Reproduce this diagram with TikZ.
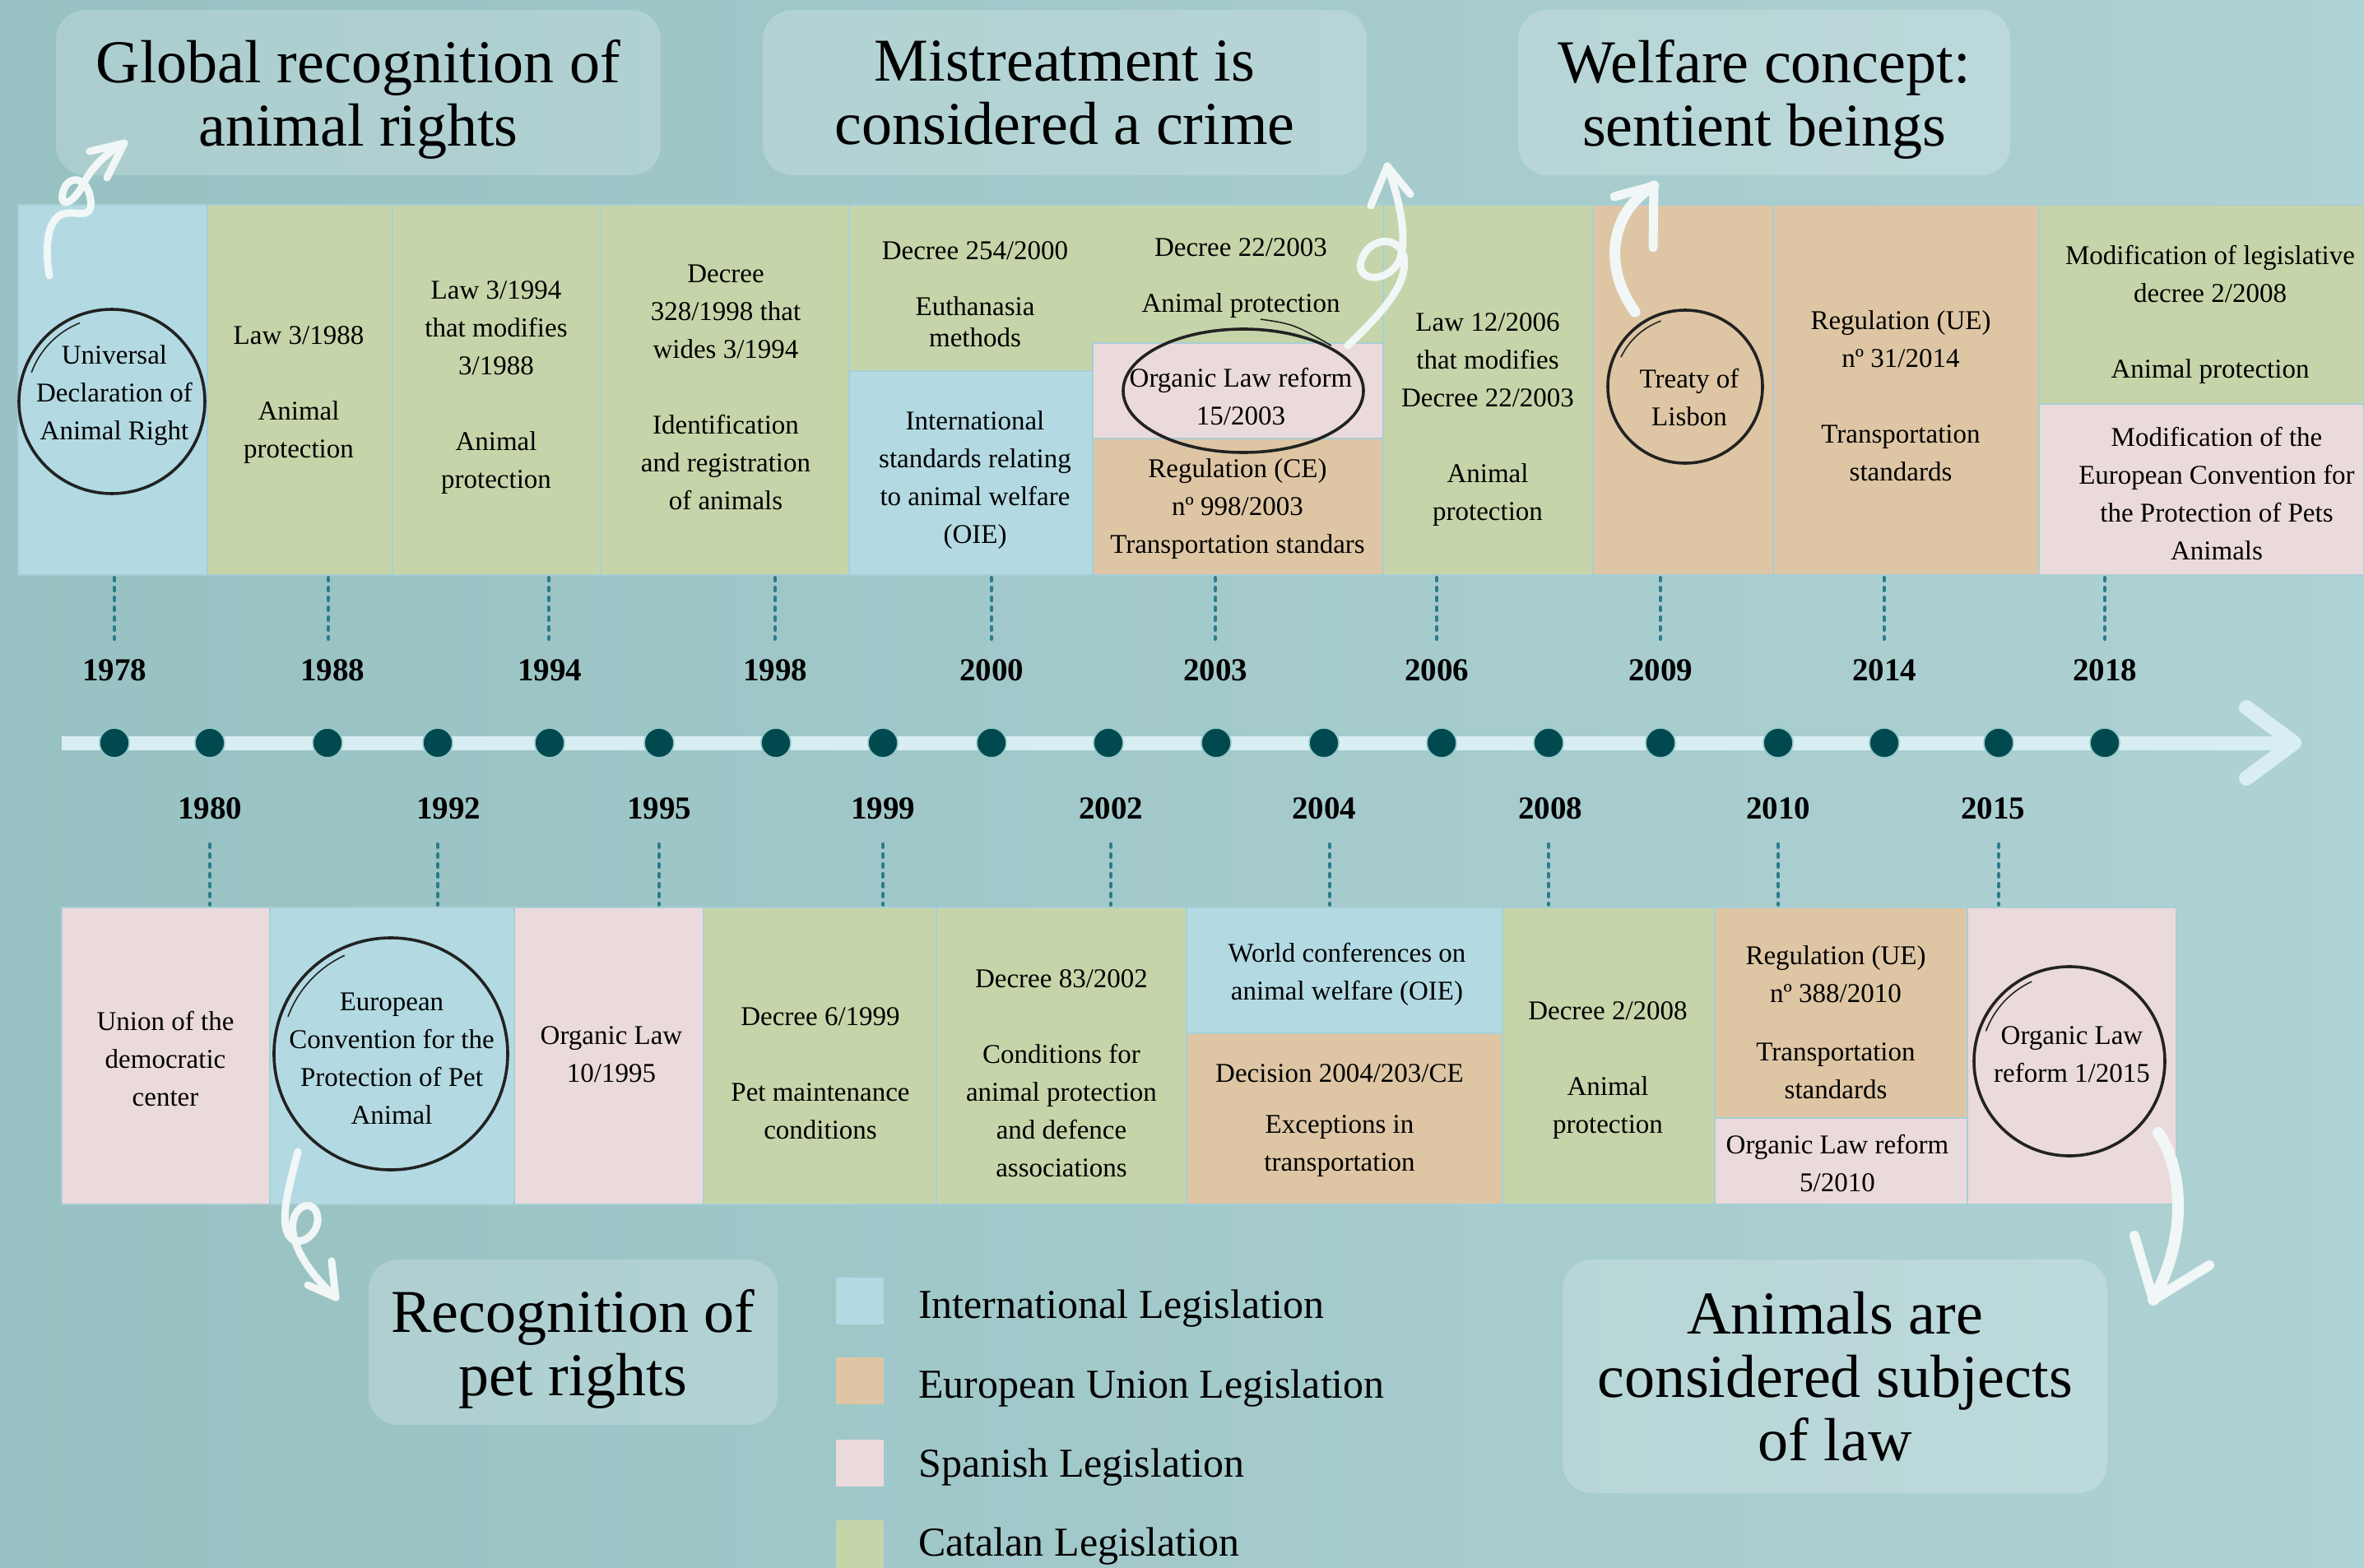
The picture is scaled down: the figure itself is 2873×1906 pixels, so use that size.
\documentclass[tikz,border=0pt]{standalone}
\usepackage{fontspec}
\setmainfont{Liberation Serif}
\definecolor{bgL}{RGB}{151,193,194}
\definecolor{bgR}{RGB}{175,210,212}
\definecolor{blueC}{RGB}{179,218,227}
\definecolor{greenC}{RGB}{198,213,169}
\definecolor{tanC}{RGB}{222,198,164}
\definecolor{pinkC}{RGB}{235,218,219}
\definecolor{sepC}{RGB}{168,206,214}
\definecolor{dotC}{RGB}{0,74,79}
\definecolor{ringC}{RGB}{150,200,200}
\definecolor{dlC}{RGB}{44,123,139}
\definecolor{barC}{RGB}{216,238,242}
\definecolor{arrC}{RGB}{240,247,246}
\definecolor{inkC}{RGB}{34,34,34}
\begin{document}
\begin{tikzpicture}[x=1pt,y=-1pt,
  bodytxt/.style={align=center,inner sep=0pt,font=\fontsize{33}{46}\selectfont},
  tighttxt/.style={align=center,inner sep=0pt,font=\fontsize{33}{38}\selectfont},
  titlebox/.style={fill=white,fill opacity=0.2,text opacity=1,rounded corners=36,align=center,inner sep=0pt,text depth=0pt,font=\fontsize{74}{77}\selectfont},
  yearlbl/.style={inner sep=0pt,font=\fontsize{39}{40}\selectfont\bfseries},
  tdot/.style={circle,fill=dotC,draw=ringC,line width=1.6,minimum size=36,inner sep=0pt},
  dotline/.style={draw=dlC,line width=4,line cap=round,dash pattern=on 4 off 8},
  cell/.style={fill=#1,draw=sepC,line width=1.2},
  ink/.style={draw=inkC,line width=3.6},
  inkthin/.style={draw=inkC,line width=1.6},
  harrow/.style={draw=arrC,line width=9,line cap=round,line join=round},
  bar/.style={draw=barC,line width=17},
  chev/.style={draw=barC,line width=18,line cap=round,line join=round},
  legtxt/.style={anchor=west,inner sep=0pt,font=\fontsize{50}{56}\selectfont}
]
\useasboundingbox (0,0) rectangle (2873,1906);
\shade[left color=bgL,right color=bgR] (0,0) rectangle (2873,1906);

% ---------- title boxes ----------
\node[titlebox,minimum width=735,minimum height=201] (t1) at (435.5,112.5) {Global recognition of\\animal rights};
\node[titlebox,minimum width=734,minimum height=201] (t2) at (1294,112.5) {Mistreatment is\\considered a crime};
\node[titlebox,minimum width=598,minimum height=201] (t3) at (2144,112.5) {Welfare concept:\\sentient beings};
\node[titlebox,minimum width=497,minimum height=201] (t4) at (696.5,1631.5) {Recognition of\\pet rights};
\node[titlebox,minimum width=662,minimum height=284] (t5) at (2230,1673) {Animals are\\considered subjects\\of law};

% ---------- top cells ----------
\filldraw[cell=blueC] (22,249) rectangle (252,699);
\filldraw[cell=greenC] (252,249) rectangle (477,699);
\filldraw[cell=greenC] (477,249) rectangle (731,699);
\filldraw[cell=greenC] (731,249) rectangle (1032,699);
\filldraw[cell=greenC] (1032,249) rectangle (1681,451);
\filldraw[cell=blueC] (1032,451) rectangle (1328,699);
\filldraw[cell=pinkC] (1328,417) rectangle (1681,533);
\filldraw[cell=tanC] (1328,533) rectangle (1681,699);
\filldraw[cell=greenC] (1681,249) rectangle (1936,699);
\filldraw[cell=tanC] (1936,249) rectangle (2155,699);
\filldraw[cell=tanC] (2155,249) rectangle (2478,699);
\filldraw[cell=greenC] (2478,249) rectangle (2873,491);
\filldraw[cell=pinkC] (2478,491) rectangle (2873,699);

\node[bodytxt] (c1) at (139,481) {Universal\\Declaration of\\Animal Right};
\node[bodytxt] (c2) at (363,480) {Law 3/1988\\[46pt]Animal\\protection};
\node[bodytxt] (c3) at (603,471) {Law 3/1994\\that modifies\\3/1988\\[46pt]Animal\\protection};
\node[bodytxt] (c4) at (882,471) {Decree\\328/1998 that\\wides 3/1994\\[46pt]Identification\\and registration\\of animals};
\node[tighttxt] (c5t) at (1185,358) {Decree 254/2000\\[30pt]Euthanasia\\methods};
\node[bodytxt] (c5b) at (1185,584) {International\\standards relating\\to animal welfare\\(OIE)};
\node[bodytxt] (c6t) at (1508,338) {Decree 22/2003\\[22pt]Animal protection};
\node[bodytxt] (c6p) at (1508,482) {Organic Law reform\\15/2003};
\node[bodytxt] (c6b) at (1504,619) {Regulation (CE)\\nº 998/2003\\Transportation standars};
\node[bodytxt] (c7) at (1808,510) {Law 12/2006\\that modifies\\Decree 22/2003\\[46pt]Animal\\protection};
\node[bodytxt] (c8) at (2053,483) {Treaty of\\Lisbon};
\node[bodytxt] (c9) at (2310,481) {Regulation (UE)\\nº 31/2014\\[46pt]Transportation\\standards};
\node[bodytxt] (c10t) at (2686,382) {Modification of legislative\\decree 2/2008\\[46pt]Animal protection};
\node[bodytxt] (c10b) at (2694,600) {Modification of the\\European Convention for\\the Protection of Pets\\Animals};

% ---------- bottom cells ----------
\filldraw[cell=pinkC] (75,1103) rectangle (328,1464);
\filldraw[cell=blueC] (328,1103) rectangle (625,1464);
\filldraw[cell=pinkC] (625,1103) rectangle (855,1464);
\filldraw[cell=greenC] (855,1103) rectangle (1138,1464);
\filldraw[cell=greenC] (1138,1103) rectangle (1442,1464);
\filldraw[cell=blueC] (1442,1103) rectangle (1826,1256);
\filldraw[cell=tanC] (1442,1256) rectangle (1826,1464);
\filldraw[cell=greenC] (1826,1103) rectangle (2084,1464);
\filldraw[cell=tanC] (2084,1103) rectangle (2391,1359);
\filldraw[cell=pinkC] (2084,1359) rectangle (2391,1464);
\filldraw[cell=pinkC] (2391,1103) rectangle (2645,1464);

\node[bodytxt] (b1) at (201,1287) {Union of the\\democratic\\center};
\node[bodytxt] (b2) at (476,1287) {European\\Convention for the\\Protection of Pet\\Animal};
\node[bodytxt] (b3) at (743,1282) {Organic Law\\10/1995};
\node[bodytxt] (b4) at (997,1305) {Decree 6/1999\\[46pt]Pet maintenance\\conditions};
\node[bodytxt] (b5) at (1290,1305) {Decree 83/2002\\[46pt]Conditions for\\animal protection\\and defence\\associations};
\node[bodytxt] (b6t) at (1637,1184) {World conferences on\\animal welfare (OIE)};
\node[bodytxt] (b6b) at (1628,1362) {Decision 2004/203/CE\\[16pt]Exceptions in\\transportation};
\node[bodytxt] (b7) at (1954,1301) {Decree 2/2008\\[46pt]Animal\\protection};
\node[bodytxt] (b8t) at (2231,1243) {Regulation (UE)\\nº 388/2010\\[25pt]Transportation\\standards};
\node[bodytxt] (b8b) at (2233,1414) {Organic Law reform\\5/2010};
\node[bodytxt] (b9) at (2518,1282) {Organic Law\\reform 1/2015};

% ---------- hand-drawn circles ----------
\draw[ink] (136,488) ellipse [x radius=113,y radius=112];
\draw[inkthin] (136,488) ++(200:104 and 103) arc [start angle=200,end angle=248,x radius=104,y radius=103];
\draw[ink] (1511,475) ellipse [x radius=146,y radius=75];
\draw[inkthin] (1532,388) .. controls (1572,394) .. (1618,420);
\draw[ink] (2048,470) ellipse [x radius=94,y radius=93];
\draw[inkthin] (2048,470) ++(205:86 and 85) arc [start angle=205,end angle=250,x radius=86,y radius=85];
\draw[ink] (475,1281) ellipse [x radius=142,y radius=141];
\draw[inkthin] (475,1281) ++(200:133 and 132) arc [start angle=200,end angle=245,x radius=133,y radius=132];
\draw[ink] (2515,1290) ellipse [x radius=116,y radius=115];
\draw[inkthin] (2515,1290) ++(200:108 and 107) arc [start angle=200,end angle=245,x radius=108,y radius=107];

% ---------- timeline ----------
\coordinate (tls) at (75,903);
\coordinate (tle) at (2788,903);
\coordinate (cv1) at (2730,860);
\coordinate (cv2) at (2730,946);
\draw[bar] (tls) -- (tle);
\draw[chev] (cv1) -- (tle) -- (cv2);

% dots on the axis
\foreach \nm/\xx in {1978/139,1980/255,1988/398,1992/532,1994/668,1995/801,1998/943,1999/1073,2000/1205,2002/1347,2003/1478,2004/1609,2006/1752,2008/1882,2009/2018,2010/2161,2014/2290,2015/2429,2018/2558}{
  \node[tdot] (d\nm) at (\xx,903) {};
}
% upper years: label x / dotted line x
\foreach \yr/\lx/\dx in {1978/139/139,1988/404/399,1994/668/667,1998/942/942,2000/1205/1205,2003/1477/1477,2006/1746/1746,2009/2018/2018,2014/2290/2290,2018/2558/2558}{
  \coordinate (ta\yr) at (\dx,702);
  \coordinate (tb\yr) at (\dx,777);
  \draw[dotline] (ta\yr) -- (tb\yr);
  \node[yearlbl] (y\yr) at (\lx,815) {\yr};
}
% lower years
\foreach \yr/\lx/\dx in {1980/255/255,1992/545/532,1995/801/801,1999/1073/1073,2002/1350/1350,2004/1609/1616,2008/1884/1882,2010/2161/2161,2015/2422/2429}{
  \coordinate (ba\yr) at (\dx,1026);
  \coordinate (bb\yr) at (\dx,1100);
  \draw[dotline] (ba\yr) -- (bb\yr);
  \node[yearlbl] (y\yr) at (\lx,983) {\yr};
}

% ---------- hand-drawn arrows ----------
\coordinate (a1s) at (60,335); \coordinate (a1t) at (151,174);
\coordinate (a1l) at (109,184); \coordinate (a1r) at (130,216);
\draw[harrow] (a1s) .. controls (54,300) and (58,272) .. (72,262) .. controls (88,252) and (114,272) .. (110,242) .. controls (106,212) and (80,212) .. (76,236) .. controls (73,256) and (92,244) .. (102,222) .. controls (114,200) and (130,186) .. (a1t);
\draw[harrow] (a1l) -- (a1t) -- (a1r);

\coordinate (a2s) at (1638,420); \coordinate (a2t) at (1686,202);
\coordinate (a2l) at (1666,250); \coordinate (a2r) at (1714,236);
\draw[harrow] (a2s) .. controls (1680,380) and (1712,345) .. (1706,312) .. controls (1700,285) and (1662,288) .. (1654,318) .. controls (1648,342) and (1685,345) .. (1700,318) .. controls (1712,290) and (1700,240) .. (a2t);
\draw[harrow] (a2l) -- (a2t) -- (a2r);

\coordinate (a3s) at (1987,379); \coordinate (a3t) at (2010,226);
\coordinate (a3l) at (1962,239); \coordinate (a3r) at (2009,301);
\draw[harrow,line width=13] (a3s) .. controls (1945,320) and (1960,255) .. (a3t);
\draw[harrow,line width=11] (a3l) -- (a3t) -- (a3r);

\coordinate (a4s) at (362,1400); \coordinate (a4t) at (408,1577);
\coordinate (a4l) at (374,1562); \coordinate (a4r) at (403,1533);
\draw[harrow] (a4s) .. controls (352,1440) and (340,1480) .. (350,1500) .. controls (360,1520) and (388,1502) .. (386,1480) .. controls (384,1458) and (360,1462) .. (356,1485) .. controls (352,1515) and (380,1552) .. (a4t);
\draw[harrow] (a4l) -- (a4t) -- (a4r);

\coordinate (a5s) at (2623,1377); \coordinate (a5t) at (2617,1580);
\coordinate (a5l) at (2594,1502); \coordinate (a5r) at (2685,1538);
\draw[harrow,line width=14] (a5s) .. controls (2652,1420) and (2660,1500) .. (a5t);
\draw[harrow,line width=12] (a5l) -- (a5t) -- (a5r);

% ---------- legend ----------
\fill[blueC] (1016,1553) rectangle (1074,1610);
\fill[tanC] (1016,1650) rectangle (1074,1707);
\fill[pinkC] (1016,1750) rectangle (1074,1807);
\fill[greenC] (1016,1848) rectangle (1074,1906);
\node[legtxt] (l1) at (1116,1591) {International Legislation};
\node[legtxt] (l2) at (1116,1688) {European Union Legislation};
\node[legtxt] (l3) at (1116,1784) {Spanish Legislation};
\node[legtxt] (l4) at (1116,1880) {Catalan Legislation};
\end{tikzpicture}
\end{document}
